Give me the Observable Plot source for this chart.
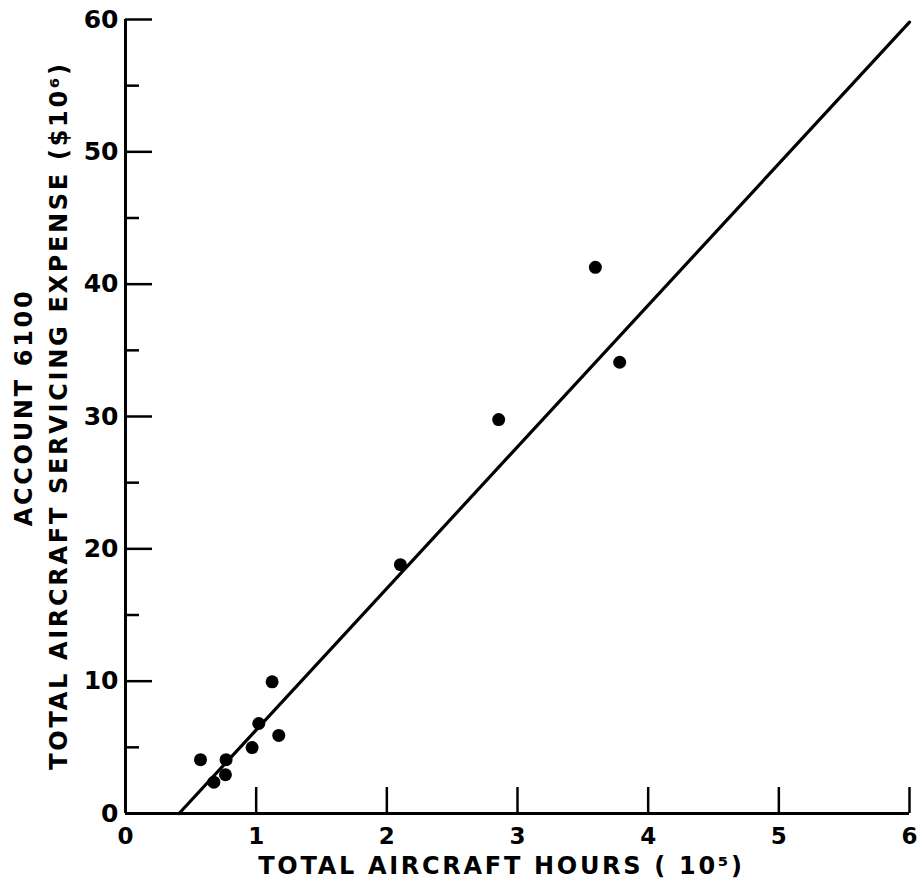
<!DOCTYPE html>
<html>
<head>
<meta charset="utf-8">
<script src="https://cdn.jsdelivr.net/npm/d3@7"></script>
<script src="https://cdn.jsdelivr.net/npm/@observablehq/plot@0.6"></script>
<style>
  html, body { margin: 0; padding: 0; background: #fff; }
  #chart svg { display: block; }
  g[aria-label="text"] text { letter-spacing: 2.7px; font-size: 24px; font-weight: bold; }
  g[aria-label="y-axis tick label"] text { font-size: 25px; font-weight: bold; }
  g[aria-label="x-axis tick label"] text { font-size: 23px; font-weight: bold; }
</style>
</head>
<body>
<div id="chart"></div>
<script>
// Data
const hours = [0.574, 0.676, 0.770, 0.765, 0.969, 1.02, 1.122, 1.173, 2.104, 2.856, 3.596, 3.782]; // 10^5 hours
const expense = [4.07, 2.37, 4.07, 2.93, 4.98, 6.8, 9.95, 5.9, 18.8, 29.77, 41.27, 34.1];      // $10^6
const fitX = [0.41, 6.0];
const fitY = [0, 59.8];
const xTicks = [0, 1, 2, 3, 4, 5, 6];
const yMajorTicks = [0, 10, 20, 30, 40, 50, 60];
const yMinorTicks = [5, 15, 25, 35, 45, 55];
const xTitle = "TOTAL AIRCRAFT HOURS ( 10\u2075)";
const yTitle1 = "ACCOUNT 6100";
const yTitle2 = "TOTAL AIRCRAFT SERVICING EXPENSE ($10\u2076)";

const points = hours.map((h, i) => ({x: h, y: expense[i]}));
const fit = fitX.map((x, i) => ({x, y: fitY[i]}));

const W = 924, H = 886;
const mL = 125, mR = 15, mT = 19, mB = 73;
const plotW = W - mL - mR, plotH = H - mT - mB;
const font = "DejaVu Sans";

const chart = Plot.plot({
  width: W,
  height: H,
  marginLeft: mL,
  marginRight: mR,
  marginTop: mT,
  marginBottom: mB,
  style: {fontFamily: font, color: "#000", background: "#fff"},
  x: {domain: [0, 6], axis: null},
  y: {domain: [0, 60], axis: null},
  marks: [
    // tick labels
    Plot.axisY({ticks: yMajorTicks, tickSize: 0, tickPadding: 7, label: null, tickFormat: d => String(d)}),
    Plot.axisX({ticks: xTicks, tickSize: 0, tickPadding: 14, label: null, tickFormat: d => String(d)}),
    // inward ticks
    Plot.tickY(yMajorTicks, {y: d => d, insetRight: plotW - 27, strokeWidth: 2.5, stroke: "#000"}),
    Plot.tickY(yMinorTicks, {y: d => d, insetRight: plotW - 14, strokeWidth: 2.5, stroke: "#000"}),
    Plot.tickX(xTicks, {x: d => d, insetTop: plotH - 26, strokeWidth: 2.5, stroke: "#000"}),
    // axis lines
    Plot.ruleX([0], {strokeWidth: 3, stroke: "#000"}),
    Plot.ruleY([0], {strokeWidth: 3, stroke: "#000"}),
    // fitted line
    Plot.line(fit, {x: "x", y: "y", stroke: "#000", strokeWidth: 3.2}),
    // data points
    Plot.dot(points, {x: "x", y: "y", r: 6.5, fill: "#000", stroke: "none"}),
    // titles
    Plot.text([xTitle], {text: d => d, frameAnchor: "bottom", textAnchor: "middle", lineAnchor: "middle", dy: 53, dx: -16, fill: "#000"}),
    Plot.text([yTitle1], {text: d => d, frameAnchor: "left", textAnchor: "middle", lineAnchor: "middle", rotate: -90, dx: -101, dy: -9, fill: "#000"}),
    Plot.text([yTitle2], {text: d => d, frameAnchor: "left", textAnchor: "middle", lineAnchor: "middle", rotate: -90, dx: -66, dy: -1, fill: "#000"})
  ]
});
document.getElementById("chart").appendChild(chart);
</script>
</body>
</html>
